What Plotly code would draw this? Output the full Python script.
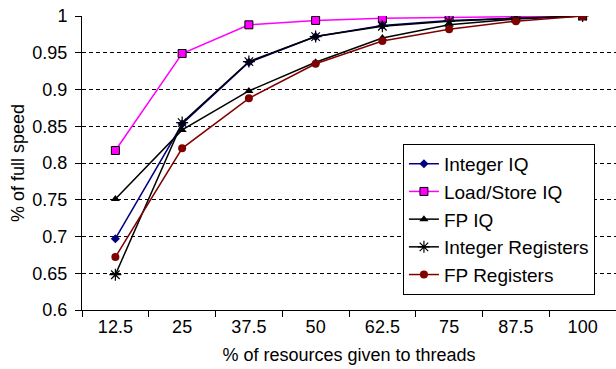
import plotly.graph_objects as go

categories = ["12.5", "25", "37.5", "50", "62.5", "75", "87.5", "100"]
integer_iq = [0.697, 0.853, 0.937, 0.972, 0.987, 0.994, 0.997, 1.0]
load_store_iq = [0.817, 0.949, 0.988, 0.994, 0.997, 0.998, 0.999, 1.0]
fp_iq = [0.751, 0.845, 0.898, 0.937, 0.970, 0.988, 0.996, 1.0]
integer_regs = [0.648, 0.855, 0.938, 0.972, 0.986, 0.993, 0.997, 1.0]
fp_regs = [0.672, 0.820, 0.888, 0.935, 0.966, 0.982, 0.993, 1.0]
y_ticks = [0.6, 0.65, 0.7, 0.75, 0.8, 0.85, 0.9, 0.95, 1.0]
y_tick_labels = ["0.6", "0.65", "0.7", "0.75", "0.8", "0.85", "0.9", "0.95", "1"]

fig = go.Figure()
fig.add_trace(go.Scatter(x=categories, y=integer_iq, name="Integer IQ", mode="lines+markers",
                         legendgroup="a",
                         line=dict(color="#000080", width=1.5),
                         marker=dict(symbol="diamond", size=7, color="#000080")))
fig.add_trace(go.Scatter(x=categories, y=load_store_iq, name="Load/Store IQ", mode="lines+markers",
                         legendgroup="b",
                         line=dict(color="#FF00FF", width=1.5),
                         marker=dict(symbol="square", size=8, color="#FF00FF",
                                     line=dict(color="#000000", width=1))))
fig.add_trace(go.Scatter(x=categories, y=fp_iq, name="FP IQ", mode="lines+markers",
                         legendgroup="c",
                         line=dict(color="#000000", width=1.5),
                         marker=dict(symbol="triangle-up", size=8, color="#000000")))
fig.add_trace(go.Scatter(x=categories, y=integer_regs, name="Integer Registers", mode="lines+markers",
                         legendgroup="d",
                         line=dict(color="#000000", width=1.5),
                         marker=dict(symbol="asterisk-open", size=10, color="#000000",
                                     line=dict(color="#000000", width=1.2))))
fig.add_trace(go.Scatter(x=categories, y=fp_regs, name="FP Registers", mode="lines+markers",
                         legendgroup="e",
                         line=dict(color="#800000", width=1.5),
                         marker=dict(symbol="circle", size=8, color="#800000")))

font = "Liberation Sans, Arial, sans-serif"
fig.update_layout(
    width=616, height=369,
    margin=dict(l=82, r=0, t=16, b=59, autoexpand=False),
    paper_bgcolor="white", plot_bgcolor="white",
    font=dict(family=font, size=18, color="#000000"),
    showlegend=True,
    legend=dict(x=0.601, y=0.565, xanchor="left", yanchor="top",
                bordercolor="#000000", borderwidth=1, bgcolor="white",
                font=dict(size=19), itemwidth=30, tracegroupgap=7,
                traceorder="normal"),
    xaxis=dict(type="category", range=[-0.5, 7.5], showgrid=False,
               showline=True, linecolor="#000000", linewidth=1,
               ticks="outside", tickson="boundaries", ticklen=6, tickcolor="#000000",
               title=dict(text="% of resources given to threads", standoff=12, font=dict(size=18)),
               tickfont=dict(size=18), automargin=False),
    yaxis=dict(range=[0.6, 1.0], tickvals=y_ticks, ticktext=y_tick_labels,
               showgrid=True, gridcolor="#000000", griddash="4px,3px", gridwidth=1,
               showline=True, linecolor="#000000", linewidth=1,
               ticks="outside", ticklen=6, tickcolor="#000000", ticklabelstandoff=4,
               title=dict(text="% of full speed", standoff=3, font=dict(size=18)),
               tickfont=dict(size=18), zeroline=False, automargin=False),
)

fig.write_html("out.html")
